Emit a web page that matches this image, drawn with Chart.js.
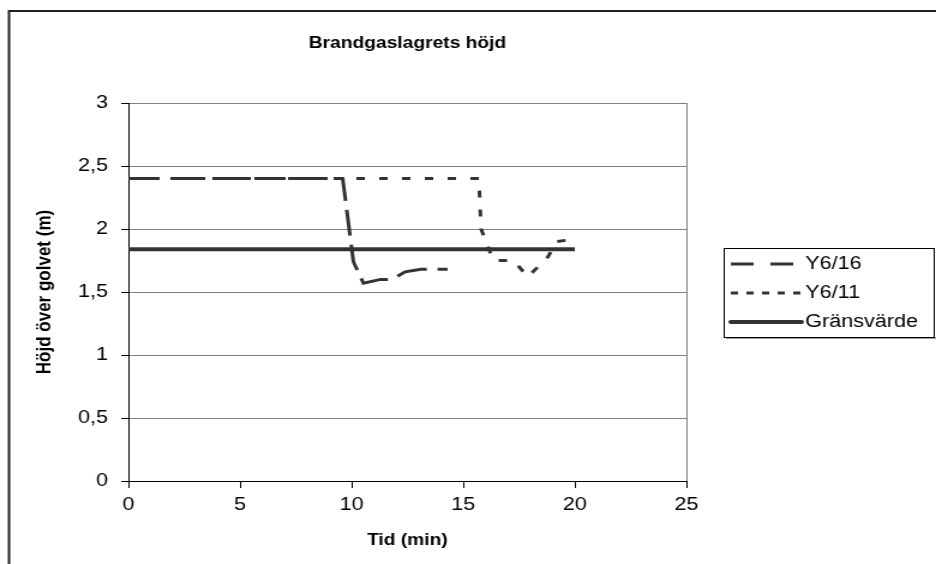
<!DOCTYPE html>
<html>
<head>
<meta charset="utf-8">
<title>Brandgaslagrets höjd</title>
<script src="https://cdn.jsdelivr.net/npm/chart.js@4.4.1/dist/chart.umd.min.js"></script>
<style>
  html, body { margin: 0; padding: 0; background: #fff; }
</style>
</head>
<body>
<!-- drawn on a narrower canvas and widened, like the exported sheet -->
<canvas id="chart" width="780" height="564" style="display:block;width:936px;height:564px"></canvas>
<script>
// Brandgaslagrets höjd — smoke layer height over time, two detectors + threshold
const chartTitle = "Brandgaslagrets höjd";
const xTitle = "Tid (min)";
const yTitle = "Höjd över golvet (m)";

const seriesNames = ["Y6/16", "Y6/11", "Gränsvärde"];

// Y6/16 (min, m)
const tidY616 = [0, 9.6, 10.08, 10.53, 11.3, 11.8, 12.4, 13.1, 14.3];
const hojdY616 = [2.4, 2.4, 1.74, 1.57, 1.60, 1.60, 1.66, 1.68, 1.68];

// Y6/11 (min, m)
const tidY611 = [0, 15.7, 15.8, 16.0, 16.35, 17.25, 17.9, 18.8, 19.2, 20.0];
const hojdY611 = [2.4, 2.4, 2.0, 1.91, 1.75, 1.75, 1.62, 1.78, 1.90, 1.92];

// limit value
const tidGrans = [0, 20];
const hojdGrans = [1.84, 1.84];

const xTicks = { min: 0, max: 25, step: 5 };
const yTicks = { min: 0, max: 3, step: 0.5 };

const ink = "#333333";
const FONT = "'Liberation Sans', Arial, sans-serif";

Chart.defaults.font.family = FONT;
Chart.defaults.color = "#000";

const pts = (xs, ys) => xs.map((x, i) => ({ x, y: ys[i] }));

// outer chart frame (runs off the right/bottom edge)
const framePlugin = {
  id: "frame",
  beforeDraw(chart) {
    const ctx = chart.ctx;
    ctx.save();
    ctx.fillStyle = "#fff";
    ctx.fillRect(0, 0, chart.width, chart.height);
    ctx.strokeStyle = "#222";
    ctx.lineWidth = 2;
    ctx.strokeRect(7.5, 11, chart.width + 20, chart.height + 20);
    ctx.restore();
  },
  beforeDatasetsDraw(chart) {
    // grey right edge of plot area
    const { ctx, chartArea: a } = chart;
    ctx.save();
    ctx.strokeStyle = "#808080";
    ctx.lineWidth = 1;
    ctx.beginPath();
    ctx.moveTo(a.right + 0.5, a.top);
    ctx.lineTo(a.right + 0.5, a.bottom);
    ctx.stroke();
    ctx.restore();
  },
};

const titlePlugin = {
  id: "plotTitle",
  afterDraw(chart) {
    const { ctx, chartArea: a } = chart;
    ctx.save();
    ctx.fillStyle = "#000";
    ctx.textAlign = "center";
    ctx.textBaseline = "middle";
    ctx.font = "bold 16px " + FONT;
    ctx.fillText(chartTitle, (a.left + a.right) / 2, 44);
    // vertical axis title
    ctx.font = "bold 17px " + FONT;
    ctx.translate(37, (a.top + a.bottom) / 2);
    ctx.rotate(-Math.PI / 2);
    ctx.fillText(yTitle, 0, 0);
    ctx.restore();
  },
};

// boxed legend on the right, samples taken from the datasets
const legendDash = [[19, 14], [6, 7], []];
const legendPlugin = {
  id: "boxLegend",
  afterDraw(chart) {
    const ctx = chart.ctx;
    const box = { x: 603, y: 248, w: 175, h: 89 };
    ctx.save();
    ctx.fillStyle = "#9a9a9a";
    ctx.fillRect(box.x + 2, box.y + box.h, box.w, 2);
    ctx.fillStyle = "#fff";
    ctx.fillRect(box.x, box.y, box.w, box.h);
    ctx.strokeStyle = "#000";
    ctx.lineWidth = 1;
    ctx.strokeRect(box.x + 0.5, box.y + 0.5, box.w, box.h);
    ctx.font = "18px " + FONT;
    ctx.textBaseline = "middle";
    ctx.textAlign = "left";
    chart.data.datasets.forEach((ds, i) => {
      const y = 264 + i * 29;
      ctx.strokeStyle = ds.borderColor;
      ctx.lineWidth = ds.borderWidth;
      ctx.setLineDash(legendDash[i]);
      ctx.lineCap = ds.borderDash.length ? "butt" : "round";
      ctx.beginPath();
      ctx.moveTo(609, y);
      ctx.lineTo(668, y);
      ctx.stroke();
      ctx.setLineDash([]);
      ctx.fillStyle = "#000";
      ctx.fillText(ds.label, 671, y);
    });
    ctx.restore();
  },
};

new Chart(document.getElementById("chart"), {
  type: "scatter",
  data: {
    datasets: [
      {
        label: seriesNames[0],
        data: pts(tidY616, hojdY616),
        borderColor: ink,
        borderWidth: 3,
        borderDash: [26, 9],
      },
      {
        label: seriesNames[1],
        data: pts(tidY611, hojdY611),
        borderColor: ink,
        borderWidth: 3,
        borderDash: [7, 12],
      },
      {
        label: seriesNames[2],
        data: pts(tidGrans, hojdGrans),
        borderColor: ink,
        borderWidth: 4,
        borderDash: [],
      },
    ].map((d) => Object.assign(d, {
      showLine: true,
      pointRadius: 0,
      pointHoverRadius: 0,
      tension: 0,
      fill: false,
    })),
  },
  options: {
    responsive: false,
    animation: false,
    devicePixelRatio: 1,
    layout: { padding: { left: 8, right: 208, top: 103, bottom: 0 } },
    plugins: {
      legend: { display: false },
      title: { display: false },
      tooltip: { enabled: false },
    },
    scales: {
      x: {
        type: "linear",
        min: xTicks.min,
        max: xTicks.max,
        afterFit: (s) => { s.height = 83; },
        ticks: {
          stepSize: xTicks.step,
          padding: 6,
          color: "#000",
          font: { size: 18 },
          maxRotation: 0,
        },
        grid: { drawOnChartArea: false, tickLength: 7, tickColor: "#000" },
        border: { color: "#000", width: 1 },
        title: {
          display: true,
          text: xTitle,
          color: "#000",
          font: { size: 16, weight: "bold" },
          padding: { top: 0, bottom: 14 },
        },
      },
      y: {
        min: yTicks.min,
        max: yTicks.max,
        afterFit: (s) => { s.width = 99; },
        ticks: {
          stepSize: yTicks.step,
          padding: 11,
          color: "#000",
          font: { size: 18 },
          callback: (v) => String(v).replace(".", ","),
        },
        grid: { color: "#808080", lineWidth: 1, tickLength: 6, tickColor: "#000" },
        border: { color: "#000", width: 1 },
      },
    },
  },
  plugins: [framePlugin, titlePlugin, legendPlugin],
});
</script>
</body>
</html>
